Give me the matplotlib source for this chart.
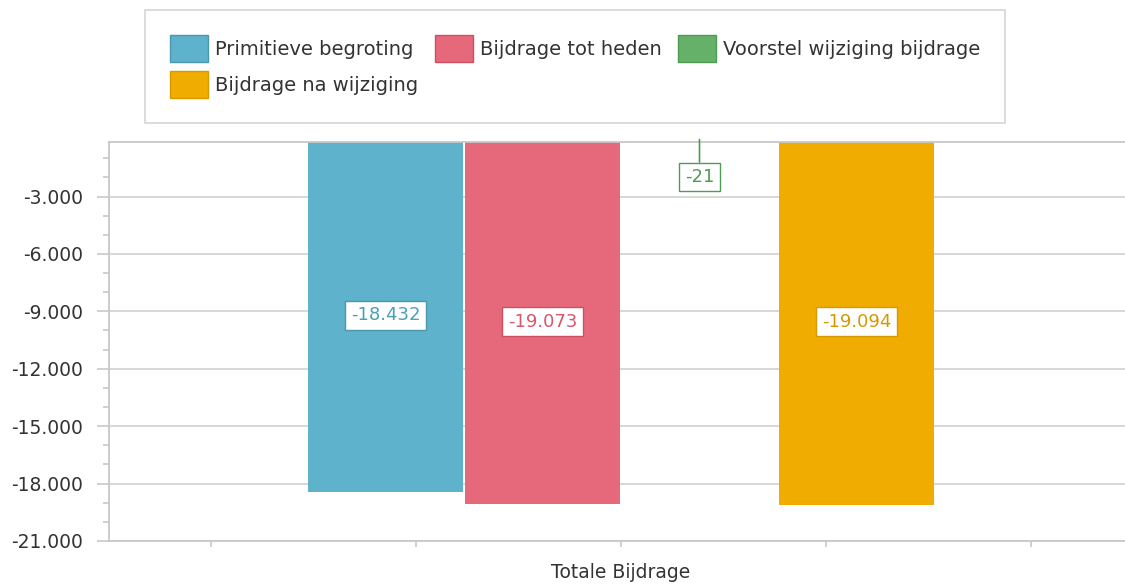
import numpy as np
import matplotlib.pyplot as plt
from matplotlib.ticker import MultipleLocator, FuncFormatter


category = 'Totale Bijdrage'
series = ['Primitieve begroting', 'Bijdrage tot heden',
          'Voorstel wijziging bijdrage', 'Bijdrage na wijziging']
values = [-18432, -19073, -21, -19094]
colors = ['#5fb2cb', '#e5697b', '#66b16a', '#f0ac00']
edge_colors = ['#4a97b0', '#cc5064', '#4f9a55', '#d69900']
text_colors = ['#4a9fbb', '#d9566b', '#4d9a52', '#d39a00']


def thousands(v, pos=None):
    return '{:,.0f}'.format(v).replace(',', '.')


plt.rcParams['font.family'] = 'DejaVu Sans'
fig = plt.figure(figsize=(11.25, 5.85), dpi=100)
ax = fig.add_axes([109 / 1125, 44 / 585, 1024 / 1125, 399 / 585])

pitch = 0.1533
width = 0.1514
offsets = (np.arange(len(series)) - 1.5) * pitch
bars = []
for i, (name, v) in enumerate(zip(series, values)):
    b = ax.bar(offsets[i], v, width=width, color=colors[i], linewidth=0,
               label=name, zorder=2)
    bars.append(b)

ax.set_xlim(-0.5, 0.5)
ax.set_ylim(-21000, -150)

# value labels
for i, v in enumerate(values):
    box = dict(boxstyle='square,pad=0.3', fc='white', ec=edge_colors[i], lw=1)
    if abs(v) > 1000:
        ax.text(offsets[i], v / 2, thousands(v), ha='center', va='center',
                fontsize=13, color=text_colors[i], bbox=box, zorder=4)
    else:
        ax.annotate(thousands(v), xy=(offsets[i], v), xytext=(0, -27),
                    textcoords='offset points', ha='center', va='center',
                    fontsize=13, color=text_colors[i], bbox=box, zorder=4,
                    annotation_clip=False,
                    arrowprops=dict(arrowstyle='-', color=edge_colors[i], lw=1.2,
                                    shrinkA=0, shrinkB=0))

# axes styling
grid_col = '#d4d4d4'
ax.yaxis.set_major_locator(MultipleLocator(3000))
ax.yaxis.set_minor_locator(MultipleLocator(1000))
ax.yaxis.set_major_formatter(FuncFormatter(thousands))
ax.grid(axis='y', color=grid_col, lw=1.3, zorder=0)
ax.set_axisbelow(True)
ax.tick_params(axis='y', which='major', length=8.5, width=1.2, color='#c8c8c8',
               labelsize=13.5, labelcolor='#333333', pad=10)
ax.tick_params(axis='y', which='minor', length=4.5, width=1.2, color='#c8c8c8')

ax.set_xticks([-0.4, -0.2, 0, 0.2, 0.4])
ax.set_xticklabels(['', '', category, '', ''])
ax.tick_params(axis='x', length=4, width=1.2, color='#c8c8c8', labelsize=13.5,
               labelcolor='#333333', pad=12)

for s in ['left', 'bottom', 'top']:
    ax.spines[s].set_color('#c8c8c8')
    ax.spines[s].set_linewidth(1.3)
ax.spines['right'].set_visible(False)

# legend, filled row by row
order = [0, 3, 1, 2]
leg = fig.legend([bars[k] for k in order], [series[k] for k in order], ncol=3,
                 loc='upper left', bbox_to_anchor=(145 / 1125, 1 - 10 / 585),
                 fontsize=14, frameon=True, fancybox=False, edgecolor='#cfcfcf',
                 borderpad=1.3, handlelength=1.95, handleheight=1.75,
                 handletextpad=0.36, columnspacing=0.85, labelspacing=0.45,
                 borderaxespad=0)
leg.get_frame().set_linewidth(1.3)
for t in leg.get_texts():
    t.set_color('#333333')
for h, k in zip(leg.legend_handles, order):
    h.set_edgecolor(edge_colors[k])
    h.set_linewidth(1)

plt.savefig('out.png', dpi=100)
